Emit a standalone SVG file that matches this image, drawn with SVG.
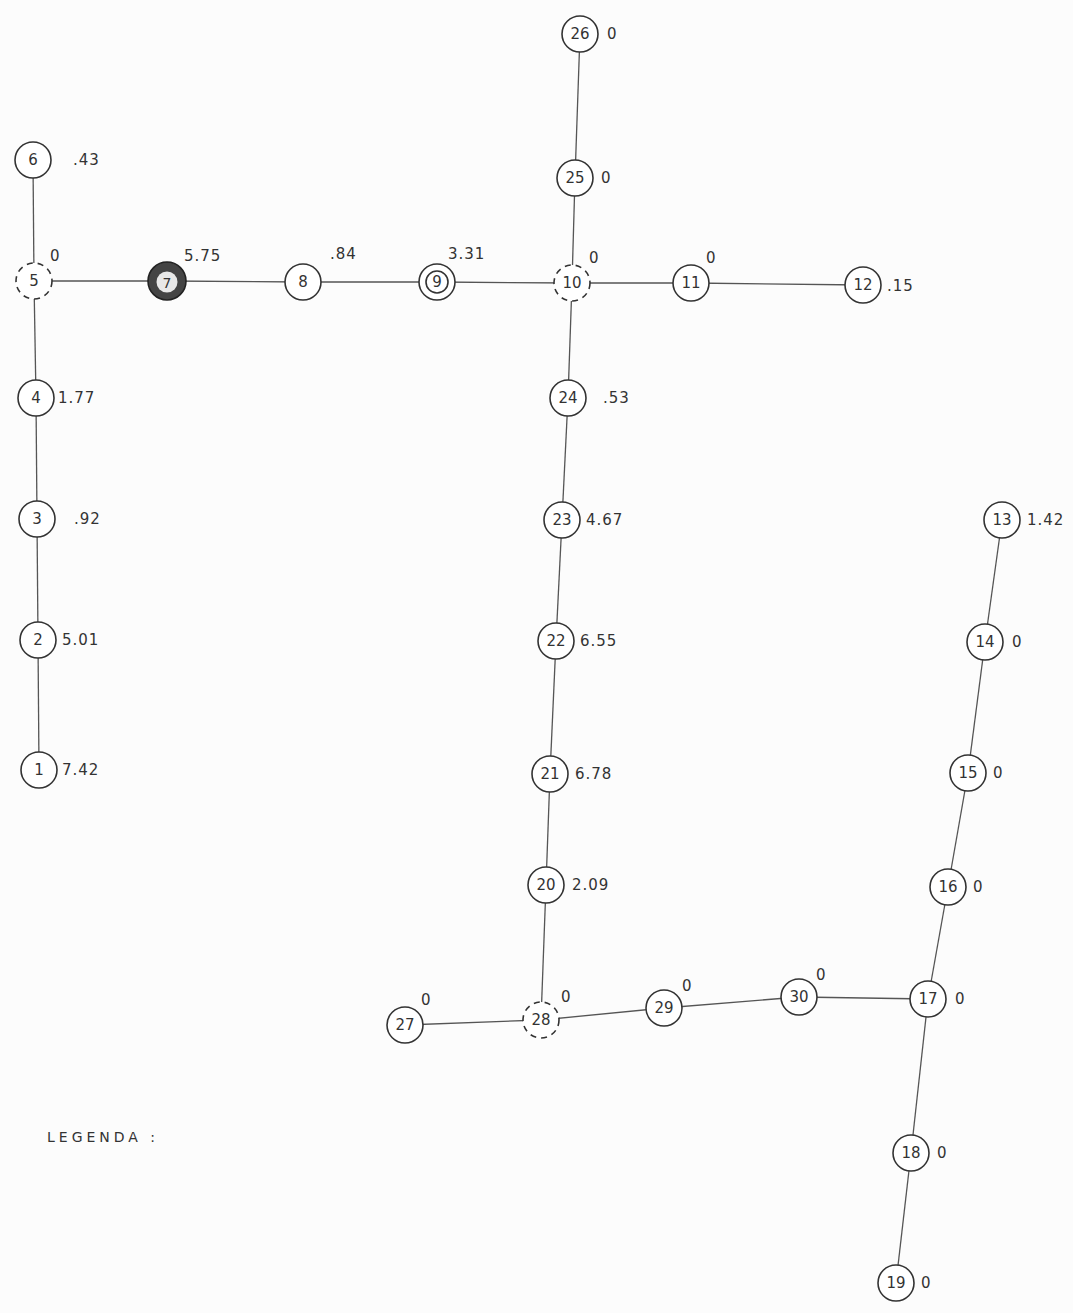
<svg xmlns="http://www.w3.org/2000/svg" width="1073" height="1313" viewBox="0 0 1073 1313">
<style>
.bg{fill:#fcfcfc}
.e{stroke:#555;stroke-width:1.3;fill:none}
.n{fill:#fff;stroke:#333;stroke-width:1.6}
.d{fill:#fff;stroke:#333;stroke-width:1.6;stroke-dasharray:6 5}
.t{font-family:"DejaVu Sans","Liberation Sans",sans-serif;font-size:15px;fill:#333;text-anchor:middle;dominant-baseline:central}
.v{font-family:"DejaVu Sans","Liberation Sans",sans-serif;font-size:15px;fill:#333;dominant-baseline:central;letter-spacing:1px}
</style>
<rect class="bg" x="0" y="0" width="1073" height="1313"/>
<g id="connectors">
<line class="e" x1="33" y1="160" x2="34" y2="281"/>
<line class="e" x1="34" y1="281" x2="167" y2="281"/>
<line class="e" x1="167" y1="281" x2="303" y2="282"/>
<line class="e" x1="303" y1="282" x2="437" y2="282"/>
<line class="e" x1="437" y1="282" x2="572" y2="283"/>
<line class="e" x1="572" y1="283" x2="691" y2="283"/>
<line class="e" x1="691" y1="283" x2="863" y2="285"/>
<line class="e" x1="34" y1="281" x2="36" y2="398"/>
<line class="e" x1="36" y1="398" x2="37" y2="519"/>
<line class="e" x1="37" y1="519" x2="38" y2="640"/>
<line class="e" x1="38" y1="640" x2="39" y2="770"/>
<line class="e" x1="580" y1="34" x2="575" y2="178"/>
<line class="e" x1="575" y1="178" x2="572" y2="283"/>
<line class="e" x1="572" y1="283" x2="568" y2="398"/>
<line class="e" x1="568" y1="398" x2="562" y2="520"/>
<line class="e" x1="562" y1="520" x2="556" y2="641"/>
<line class="e" x1="556" y1="641" x2="550" y2="774"/>
<line class="e" x1="550" y1="774" x2="546" y2="885"/>
<line class="e" x1="546" y1="885" x2="541" y2="1020"/>
<line class="e" x1="405" y1="1025" x2="541" y2="1020"/>
<line class="e" x1="541" y1="1020" x2="664" y2="1008"/>
<line class="e" x1="664" y1="1008" x2="799" y2="997"/>
<line class="e" x1="799" y1="997" x2="928" y2="999"/>
<line class="e" x1="1002" y1="520" x2="985" y2="642"/>
<line class="e" x1="985" y1="642" x2="968" y2="773"/>
<line class="e" x1="968" y1="773" x2="948" y2="887"/>
<line class="e" x1="948" y1="887" x2="928" y2="999"/>
<line class="e" x1="928" y1="999" x2="911" y2="1153"/>
<line class="e" x1="911" y1="1153" x2="896" y2="1283"/>
</g>
<g id="n1"><circle class="n" cx="39" cy="770" r="18"/><text class="t" x="39" y="770">1</text><text class="v" x="62" y="770">7.42</text></g>
<g id="n2"><circle class="n" cx="38" cy="640" r="18"/><text class="t" x="38" y="640">2</text><text class="v" x="62" y="640">5.01</text></g>
<g id="n3"><circle class="n" cx="37" cy="519" r="18"/><text class="t" x="37" y="519">3</text><text class="v" x="74" y="519">.92</text></g>
<g id="n4"><circle class="n" cx="36" cy="398" r="18"/><text class="t" x="36" y="398">4</text><text class="v" x="58" y="398">1.77</text></g>
<g id="n5"><circle class="d" cx="34" cy="281" r="18"/><text class="t" x="34" y="281">5</text><text class="v" x="50" y="256">0</text></g>
<g id="n6"><circle class="n" cx="33" cy="160" r="18"/><text class="t" x="33" y="160">6</text><text class="v" x="73" y="160">.43</text></g>
<g id="n7"><circle cx="167" cy="281" r="19" fill="#444" stroke="#222" stroke-width="1.6"/><circle cx="167" cy="282" r="10.5" fill="#e8e8e8"/><text class="t" x="167" y="283" style="font-size:14px">7</text><text class="v" x="184" y="256">5.75</text></g>
<g id="n8"><circle class="n" cx="303" cy="282" r="18"/><text class="t" x="303" y="282">8</text><text class="v" x="330" y="254">.84</text></g>
<g id="n9"><circle class="n" cx="437" cy="282" r="18"/><circle class="n" cx="437" cy="282" r="11"/><text class="t" x="437" y="282">9</text><text class="v" x="448" y="254">3.31</text></g>
<g id="n10"><circle class="d" cx="572" cy="283" r="18"/><text class="t" x="572" y="283">10</text><text class="v" x="589" y="258">0</text></g>
<g id="n11"><circle class="n" cx="691" cy="283" r="18"/><text class="t" x="691" y="283">11</text><text class="v" x="706" y="258">0</text></g>
<g id="n12"><circle class="n" cx="863" cy="285" r="18"/><text class="t" x="863" y="285">12</text><text class="v" x="887" y="286">.15</text></g>
<g id="n13"><circle class="n" cx="1002" cy="520" r="18"/><text class="t" x="1002" y="520">13</text><text class="v" x="1027" y="520">1.42</text></g>
<g id="n14"><circle class="n" cx="985" cy="642" r="18"/><text class="t" x="985" y="642">14</text><text class="v" x="1012" y="642">0</text></g>
<g id="n15"><circle class="n" cx="968" cy="773" r="18"/><text class="t" x="968" y="773">15</text><text class="v" x="993" y="773">0</text></g>
<g id="n16"><circle class="n" cx="948" cy="887" r="18"/><text class="t" x="948" y="887">16</text><text class="v" x="973" y="887">0</text></g>
<g id="n17"><circle class="n" cx="928" cy="999" r="18"/><text class="t" x="928" y="999">17</text><text class="v" x="955" y="999">0</text></g>
<g id="n18"><circle class="n" cx="911" cy="1153" r="18"/><text class="t" x="911" y="1153">18</text><text class="v" x="937" y="1153">0</text></g>
<g id="n19"><circle class="n" cx="896" cy="1283" r="18"/><text class="t" x="896" y="1283">19</text><text class="v" x="921" y="1283">0</text></g>
<g id="n20"><circle class="n" cx="546" cy="885" r="18"/><text class="t" x="546" y="885">20</text><text class="v" x="572" y="885">2.09</text></g>
<g id="n21"><circle class="n" cx="550" cy="774" r="18"/><text class="t" x="550" y="774">21</text><text class="v" x="575" y="774">6.78</text></g>
<g id="n22"><circle class="n" cx="556" cy="641" r="18"/><text class="t" x="556" y="641">22</text><text class="v" x="580" y="641">6.55</text></g>
<g id="n23"><circle class="n" cx="562" cy="520" r="18"/><text class="t" x="562" y="520">23</text><text class="v" x="586" y="520">4.67</text></g>
<g id="n24"><circle class="n" cx="568" cy="398" r="18"/><text class="t" x="568" y="398">24</text><text class="v" x="603" y="398">.53</text></g>
<g id="n25"><circle class="n" cx="575" cy="178" r="18"/><text class="t" x="575" y="178">25</text><text class="v" x="601" y="178">0</text></g>
<g id="n26"><circle class="n" cx="580" cy="34" r="18"/><text class="t" x="580" y="34">26</text><text class="v" x="607" y="34">0</text></g>
<g id="n27"><circle class="n" cx="405" cy="1025" r="18"/><text class="t" x="405" y="1025">27</text><text class="v" x="421" y="1000">0</text></g>
<g id="n28"><circle class="d" cx="541" cy="1020" r="18"/><text class="t" x="541" y="1020">28</text><text class="v" x="561" y="997">0</text></g>
<g id="n29"><circle class="n" cx="664" cy="1008" r="18"/><text class="t" x="664" y="1008">29</text><text class="v" x="682" y="986">0</text></g>
<g id="n30"><circle class="n" cx="799" cy="997" r="18"/><text class="t" x="799" y="997">30</text><text class="v" x="816" y="975">0</text></g>
<text class="v" x="47" y="1137" style="font-size:14px;letter-spacing:4px">LEGENDA :</text>
</svg>
